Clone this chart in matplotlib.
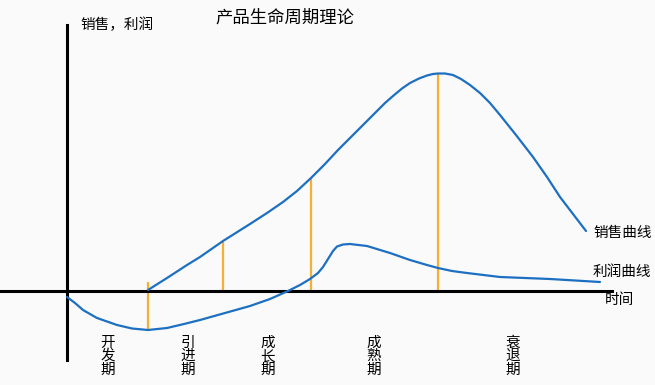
import matplotlib.pyplot as plt

plt.rcParams['font.family'] = ['Noto Sans CJK SC', 'DejaVu Sans']

# time axis origin at the vertical axis, values measured up from the time axis
sales_t = [81, 100, 120, 133, 156, 183, 200, 216, 230, 244, 258, 271, 287, 303, 310, 318,
           326, 335, 343, 352, 360, 366, 371, 378, 386, 394, 403, 413, 423, 433, 449, 466,
           480, 493, 506, 519]
sales_v = [1, 13, 26, 34, 50, 67, 78, 89, 100, 113, 127, 141, 157, 173, 180, 188,
           195, 202.5, 208, 212.5, 215.5, 217, 217.5, 217.5, 216, 212, 206, 198, 188, 176, 156, 134,
           114, 94, 77, 60]

profit_t = [0, 8, 16, 30, 50, 65, 81, 100, 117, 133, 158, 183, 203, 221, 233, 243,
            251, 256, 261, 266, 270, 276, 283, 300, 323, 343, 360, 371, 385, 400, 433, 483, 533]
profit_v = [-6, -12, -19, -27, -34, -37.5, -39, -37, -33, -29, -22, -15, -8, 0, 6, 12,
            18, 24, 32, 40, 44.5, 46.5, 47, 45, 38, 31, 26, 23, 20, 18, 14, 12, 9]

stage_names = ['开\n发\n期', '引\n进\n期', '成\n长\n期', '成\n熟\n期', '衰\n退\n期']
stage_x = [41, 121, 201, 307, 446]

bound_t = [81, 156, 244, 371]
bound_lo = [-38, 0, 0, 0]
bound_hi = [9, 50, 113, 218]

fig = plt.figure(figsize=(6.55, 3.85), dpi=100, facecolor='#fafafa')
ax = fig.add_axes([0, 0, 1, 1])
ax.set_facecolor('#fafafa')
ax.set_xlim(-67, 588)
ax.set_ylim(-94, 291)
ax.axis('off')

blue = '#1d6fc2'
orange = '#f5b034'

ax.vlines(bound_t, bound_lo, bound_hi, color=orange, lw=1.6, zorder=2)
ax.plot([-67, 545], [0, 0], color='black', lw=2.2, zorder=3)
ax.plot([0, 0], [-69, 266], color='black', lw=2.2, zorder=3)

ax.plot(sales_t, sales_v, color=blue, lw=1.6, zorder=4,
        solid_joinstyle='round', solid_capstyle='round')
ax.plot(profit_t, profit_v, color=blue, lw=1.6, zorder=4,
        solid_joinstyle='round', solid_capstyle='round')

ax.text(218, 273, '产品生命周期理论', fontsize=12.5, ha='center', va='center')
ax.text(13, 266, '销售，利润', fontsize=10.5, ha='left', va='center')
ax.text(526, 58, '销售曲线', fontsize=10.5, ha='left', va='center')
ax.text(526, 19, '利润曲线', fontsize=10.5, ha='left', va='center')
ax.text(538, -9, '时间', fontsize=10.5, ha='left', va='center')

for name, x in zip(stage_names, stage_x):
    ax.text(x, -65, name, fontsize=10.5, ha='center', va='center', linespacing=0.95)

fig.savefig('out.png', dpi=100, facecolor=fig.get_facecolor())
